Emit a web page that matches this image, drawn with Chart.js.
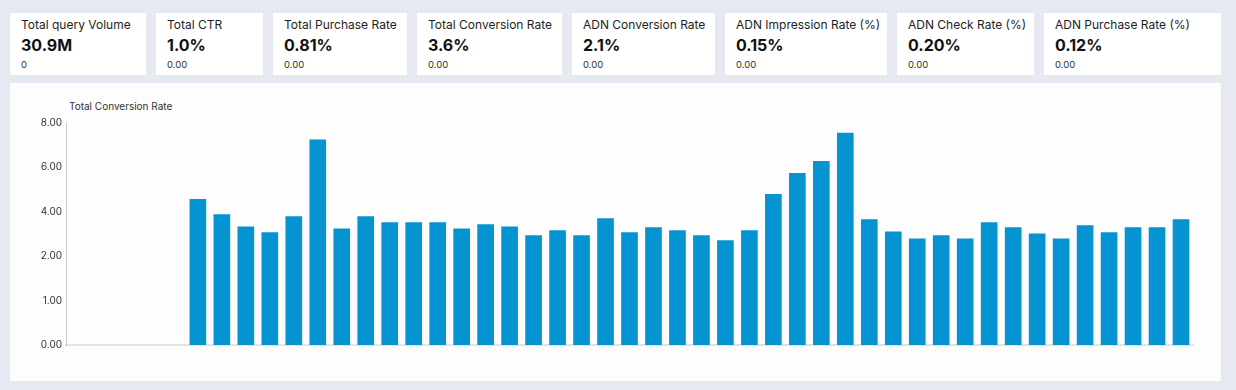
<!DOCTYPE html>
<html>
<head>
<meta charset="utf-8">
<script src="https://cdn.jsdelivr.net/npm/chart.js@4/dist/chart.umd.min.js"></script>
<style>
  body { margin: 0; width: 1236px; height: 390px; overflow: hidden; background: #e6e9f2; font-family: Inter, "Noto Sans", sans-serif; }
  .cards { position: absolute; top: 13px; left: 10px; display: flex; gap: 10px; }
  .card { height: 62px; background: #fff; box-sizing: border-box; padding: 4px 0 0 11px; color: #1e1e1e; }
  .card .t { font-size: 12px; line-height: 16px; }
  .card .v { font-size: 16px; font-weight: 700; line-height: 22px; margin-top: 1px; color: #111; }
  .card .s { font-size: 9.5px; line-height: 14px; margin-top: 2px; color: #333; }
  .panel { position: absolute; left: 10px; top: 83px; width: 1211px; height: 298px; background: #fdfdfd; }
  .panel .title { position: absolute; left: 59px; top: 17px; font-size: 10px; color: #333; }
  .panel canvas { position: absolute; left: 0; top: 0; }
</style>
</head>
<body>
<div class="cards" id="cards"></div>
<div class="panel">
  <div class="title">Total Conversion Rate</div>
  <canvas id="chartCanvas" width="1211" height="298"></canvas>
</div>
<script>
const cardTitles = ['Total query Volume', 'Total CTR', 'Total Purchase Rate', 'Total Conversion Rate',
    'ADN Conversion Rate', 'ADN Impression Rate (%)', 'ADN Check Rate (%)', 'ADN Purchase Rate (%)'];
const cardValues = ['30.9M', '1.0%', '0.81%', '3.6%', '2.1%', '0.15%', '0.20%', '0.12%'];
const cardSubs = ['0', '0.00', '0.00', '0.00', '0.00', '0.00', '0.00', '0.00'];

const categories = Array.from({ length: 47 }, (_, i) => 'W' + (i + 1));
const conversionRate = [null, null, null, null, null,
    5.25, 4.70, 4.26, 4.05, 4.63, 7.39, 4.19, 4.63, 4.41, 4.41,
    4.41, 4.19, 4.34, 4.26, 3.94, 4.12, 3.94, 4.56, 4.05, 4.23,
    4.12, 3.94, 3.76, 4.12, 5.43, 6.19, 6.62, 7.64, 4.52, 4.08,
    3.83, 3.94, 3.83, 4.41, 4.23, 4.01, 3.83, 4.30, 4.05, 4.23,
    4.23, 4.52];
const yTickValues = [0, 1.6, 3.2, 4.8, 6.4, 8];
const yTickLabels = ['0.00', '1.00', '2.00', '4.00', '6.00', '8.00'];

// card widths in px, matched to the screenshot
const cardWidths = [136, 107, 134, 145, 143, 162, 137, 177];

const cardsDiv = document.getElementById('cards');
cardTitles.forEach((title, i) => {
    const card = document.createElement('div');
    card.className = 'card';
    card.style.width = cardWidths[i] + 'px';
    card.innerHTML = `<div class="t">${title}</div><div class="v">${cardValues[i]}</div><div class="s">${cardSubs[i]}</div>`;
    cardsDiv.appendChild(card);
});

const ctx = document.getElementById('chartCanvas').getContext('2d');
new Chart(ctx, {
    type: 'bar',
    data: {
        labels: categories,
        datasets: [{
            label: 'Total Conversion Rate',
            data: conversionRate,
            backgroundColor: '#0593d1',
            barThickness: 16
        }]
    },
    options: {
        responsive: false,
        animation: false,
        layout: { padding: { top: 40, right: 28, bottom: 36, left: 0 } },
        plugins: { legend: { display: false }, tooltip: { enabled: false } },
        scales: {
            x: {
                ticks: { display: false },
                grid: { display: false },
                border: { display: true, color: '#e2e2e2', width: 2 },
                afterFit: scale => { scale.height = 0; }
            },
            y: {
                min: 0,
                max: 8,
                afterBuildTicks: scale => { scale.ticks = yTickValues.map(v => ({ value: v })); },
                ticks: {
                    color: '#333',
                    padding: 4,
                    font: { family: 'Inter', size: 10 },
                    callback: (v, i) => yTickLabels[i]
                },
                grid: { display: false, drawTicks: false },
                border: { display: true, color: '#c8c8c8', width: 1 },
                afterFit: scale => { scale.width = 56; }
            }
        }
    }
});
</script>
</body>
</html>
